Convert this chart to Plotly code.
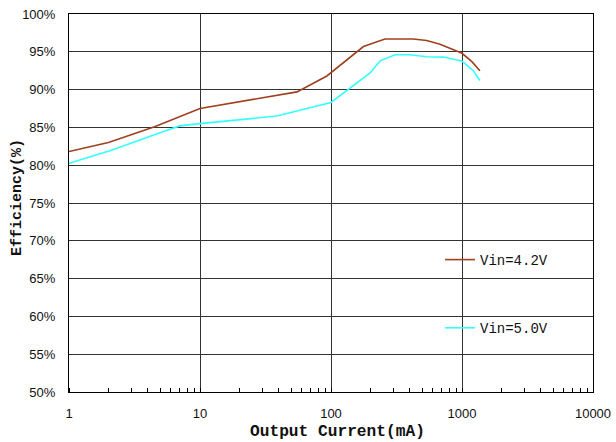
import plotly.graph_objects as go

# Data
current_42 = [1, 2, 4.5, 10, 55, 93, 177, 258, 425, 537, 680, 1000, 1190, 1370]
eff_42 = [81.8, 83.0, 85.1, 87.5, 89.7, 91.8, 95.7, 96.7, 96.7, 96.5, 96.0, 94.8, 93.7, 92.5]

current_50 = [1, 2.05, 4.95, 7, 10, 38.5, 100, 199, 237, 308, 401, 537, 720, 995, 1220, 1370]
eff_50 = [80.25, 81.9, 84.3, 85.2, 85.5, 86.5, 88.3, 92.2, 93.8, 94.6, 94.6, 94.35, 94.3, 93.8, 92.5, 91.2]

series_names = ["Vin=4.2V", "Vin=5.0V"]
series_colors = ["#A0401F", "#33FFFF"]

x_ticks = [1, 10, 100, 1000, 10000]
y_ticks = list(range(50, 101, 5))

x_title = "Output Current(mA)"
y_title = "Efficiency(%)"

fig = go.Figure()
fig.add_trace(go.Scatter(x=current_42, y=eff_42, mode="lines", name=series_names[0],
                         legendgroup="a", line=dict(color=series_colors[0], width=1.6)))
fig.add_trace(go.Scatter(x=current_50, y=eff_50, mode="lines", name=series_names[1],
                         legendgroup="b", line=dict(color=series_colors[1], width=1.6)))

# white box behind the legend, blanking the gridlines
fig.add_shape(type="rect", xref="paper", yref="paper",
              x0=(440 - 69) / 524, x1=(555 - 69) / 524,
              y0=(392 - 363) / 378, y1=(392 - 224) / 378,
              fillcolor="white", line=dict(width=0), layer="between")

title_font = dict(family="Liberation Mono", color="#111", weight="bold")
fig.add_annotation(text=x_title, xref="paper", yref="paper",
                   x=(337 - 69) / 524, y=(392 - 442) / 378,
                   xanchor="center", yanchor="bottom", showarrow=False, borderpad=0,
                   font=dict(size=16.2, **title_font))
fig.add_annotation(text=y_title, xref="paper", yref="paper",
                   x=(17 - 69) / 524, y=(392 - 198) / 378, textangle=-90,
                   xanchor="center", yanchor="middle", showarrow=False,
                   font=dict(size=15, **title_font))

fig.update_layout(
    width=616, height=442,
    margin=dict(l=69, r=23, t=14, b=50),
    paper_bgcolor="white", plot_bgcolor="white",
    showlegend=True,
    legend=dict(x=(440 - 69) / 524, y=(392 - 244) / 378, xanchor="left", yanchor="top",
                bgcolor="rgba(0,0,0,0)", traceorder="grouped", tracegroupgap=47,
                font=dict(family="Liberation Mono", size=14, color="#111")),
    xaxis=dict(type="log", range=[0, 4], tickvals=x_ticks, ticktext=[str(v) for v in x_ticks],
               automargin=False, ticklabelstandoff=9,
               showgrid=True, gridcolor="#333", gridwidth=1,
               showline=True, linecolor="black", linewidth=1, mirror=True,
               ticks="", zeroline=False,
               minor=dict(ticks="inside", ticklen=4, tickcolor="black", showgrid=False, dtick="D1"),
               tickfont=dict(family="Liberation Sans", size=13, color="#111")),
    yaxis=dict(range=[50, 100], tickvals=y_ticks, ticktext=[f"{v}%" for v in y_ticks],
               automargin=False, ticklabelstandoff=10,
               showgrid=True, gridcolor="#333", gridwidth=1,
               showline=True, linecolor="black", linewidth=1, mirror=True,
               ticks="", zeroline=False,
               tickfont=dict(family="Liberation Sans", size=13, color="#111")),
)

fig.write_html("out.html", config={"displayModeBar": False},
               post_script="document.body.style.margin='0';")
